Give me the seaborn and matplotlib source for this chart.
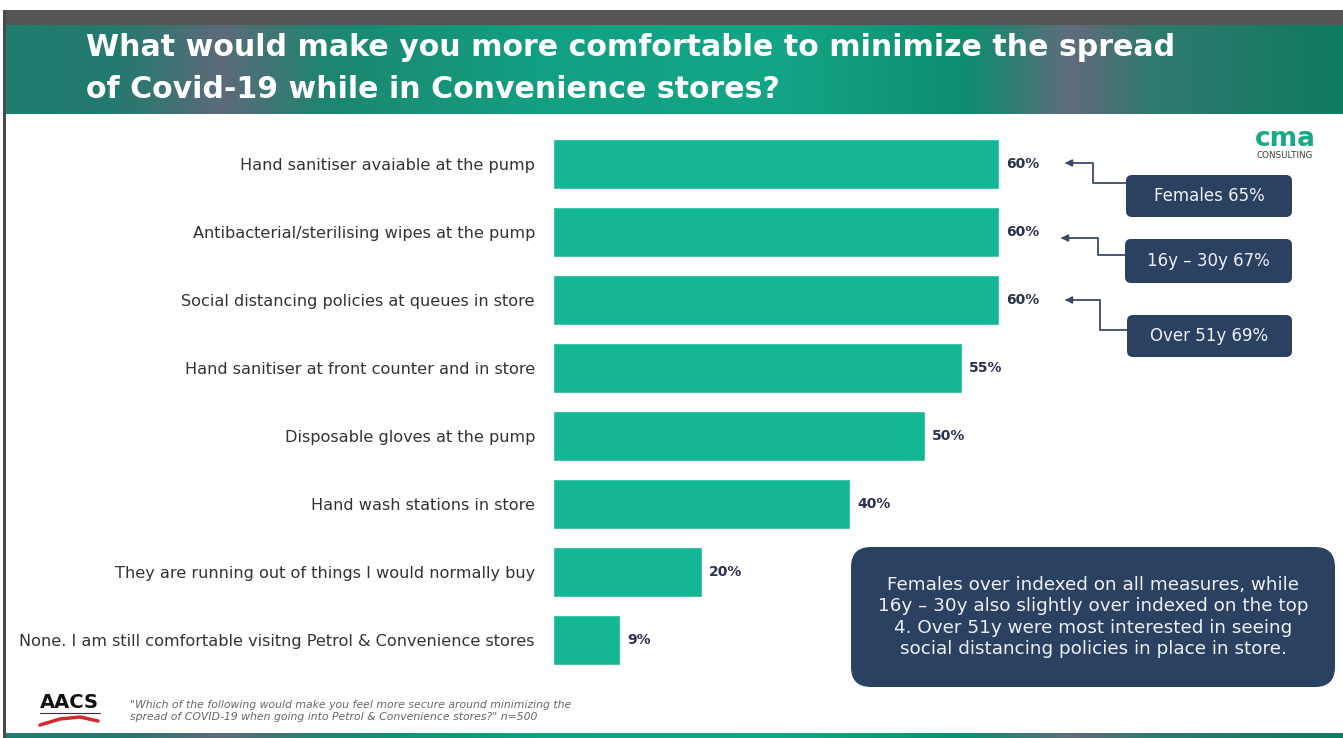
import numpy as np
import pandas as pd
import matplotlib
matplotlib.use("Agg")
import matplotlib.pyplot as plt
import seaborn as sns
from matplotlib.patches import FancyBboxPatch, Rectangle
from matplotlib.colors import LinearSegmentedColormap

# ---------------- data ----------------
categories = [
    "Hand sanitiser avaiable at the pump",
    "Antibacterial/sterilising wipes at the pump",
    "Social distancing policies at queues in store",
    "Hand sanitiser at front counter and in store",
    "Disposable gloves at the pump",
    "Hand wash stations in store",
    "They are running out of things I would normally buy",
    "None. I am still comfortable visitng Petrol & Convenience stores",
]
values = [60, 60, 60, 55, 50, 40, 20, 9]
callout_labels = ["Females 65%", "16y \u2013 30y 67%", "Over 51y 69%"]
title_lines = ["What would make you more comfortable to minimize the spread",
               "of Covid-19 while in Convenience stores?"]
summary_text = ("Females over indexed on all measures, while\n"
                "16y \u2013 30y also slightly over indexed on the top\n"
                "4. Over 51y were most interested in seeing\n"
                "social distancing policies in place in store.")
footnote = ("\"Which of the following would make you feel more secure around minimizing the\n"
            "spread of COVID-19 when going into Petrol & Convenience stores?\" n=500")

W, H = 1343, 738
BAR = "#13b794"
NAVY = "#2b4162"

sns.set_theme(style="white")
plt.rcParams["font.family"] = ["DejaVu Sans"]

fig = plt.figure(figsize=(W / 100, H / 100), dpi=100)
fig.patch.set_facecolor("white")

# overlay in pixel coords (background decorations)
bg = fig.add_axes([0, 0, 1, 1], zorder=0)
bg.set_xlim(0, W)
bg.set_ylim(H, 0)
bg.axis("off")

# dark band at top
bg.add_patch(Rectangle((4, 10), W - 4, 15, color="#555555", lw=0))
# left border
bg.add_patch(Rectangle((3, 10), 3, H - 10, color="#4a4a4a", lw=0))

# header gradient
stops = [(0.0, "#1f7d6e"), (0.08, "#247a6e"), (0.16, "#5c6a79"), (0.24, "#1d8670"),
         (0.40, "#12a082"), (0.58, "#13a586"), (0.72, "#0f8d6e"), (0.80, "#606b7b"),
         (0.86, "#2f7a6d"), (1.0, "#0e7b60")]
cmap = LinearSegmentedColormap.from_list("hdr", stops)
grad = np.tile(np.linspace(0, 1, 600), (40, 1))
bg.imshow(grad, cmap=cmap, extent=(6, W, 114, 25), aspect="auto", zorder=1)
# bottom strip
bg.imshow(grad, cmap=cmap, extent=(6, W, H, 733), aspect="auto", zorder=1)

for i, line in enumerate(title_lines):
    bg.text(86, 48 + i * 41, line, color="white", fontsize=21.6, fontweight="bold",
            va="center", ha="left", zorder=3)

# ---------------- bar chart ----------------
left, right = 553, 553 + 743
top, bottom = 130, 674
ax = fig.add_axes([left / W, 1 - bottom / H, (right - left) / W, (bottom - top) / H], zorder=2)
ax.patch.set_alpha(0)
df = pd.DataFrame({"cat": categories, "val": values})
sns.barplot(data=df, y="cat", x="val", orient="h", color=BAR, saturation=1,
            width=0.74, ax=ax)
ax.set_xlim(0, 100)
ax.set_ylim(len(categories) - 0.5, -0.5)
ax.set_xlabel("")
ax.set_ylabel("")
ax.set_xticks([])
for s in ax.spines.values():
    s.set_visible(False)
ax.tick_params(axis="y", length=0, pad=13, labelsize=11.6, labelcolor="#333333")
ax.bar_label(ax.containers[0], labels=[f"{v}%" for v in values], padding=5,
             fontsize=10, fontweight="bold", color="#2a3450")

# ---------------- callouts ----------------
fg = fig.add_axes([0, 0, 1, 1], zorder=5)
fg.set_xlim(0, W)
fg.set_ylim(H, 0)
fg.axis("off")
fg.patch.set_alpha(0)

boxes = [(1126, 175, 166, 42), (1125, 239, 167, 44), (1127, 315, 165, 42)]
paths = [((1126, 183), 1093, 163, 1062), ((1125, 255), 1098, 238, 1058),
         ((1127, 330), 1100, 300, 1062)]
for (bx, by, bw, bh), lab, (start, vx, ty, ax_end) in zip(boxes, callout_labels, paths):
    fg.add_patch(FancyBboxPatch((bx, by), bw, bh, boxstyle="round,pad=0,rounding_size=6",
                                fc=NAVY, ec="none"))
    fg.text(bx + bw / 2, by + bh / 2, lab, color="#eef0f4", fontsize=12,
            ha="center", va="center")
    fg.plot([start[0], vx, vx, ax_end + 6], [start[1], start[1], ty, ty],
            color="#3b4a66", lw=1.3)
    fg.annotate("", xy=(ax_end, ty), xytext=(ax_end + 8, ty),
                arrowprops=dict(arrowstyle="-|>", color="#3b4a66", lw=1.3,
                                mutation_scale=10))

fg.add_patch(FancyBboxPatch((851, 547), 484, 140, boxstyle="round,pad=0,rounding_size=20",
                            fc=NAVY, ec="none"))
fg.text(851 + 242, 617, summary_text, color="#eef0f4", fontsize=13.2, ha="center",
        va="center", linespacing=1.25)

# logos
fg.text(1285, 146, "cma", color="#17a886", fontsize=19, fontweight="bold",
        ha="center", va="baseline")
fg.text(1285, 156, "CONSULTING", color="#3a3a3a", fontsize=6.3, ha="center", va="center")
fg.text(69, 702, "AACS", color="#111111", fontsize=14, fontweight="bold",
        ha="center", va="center")
fg.plot([40, 100], [713, 713], color="#333333", lw=0.8)
fg.plot([40, 60, 80, 98], [725, 719, 717, 721], color="#d42a2a", lw=2.5)

fg.text(130, 711, footnote, color="#666666", fontsize=7.8, style="italic",
        ha="left", va="center", linespacing=1.2)

fig.savefig("out.png", dpi=100, facecolor="white")
